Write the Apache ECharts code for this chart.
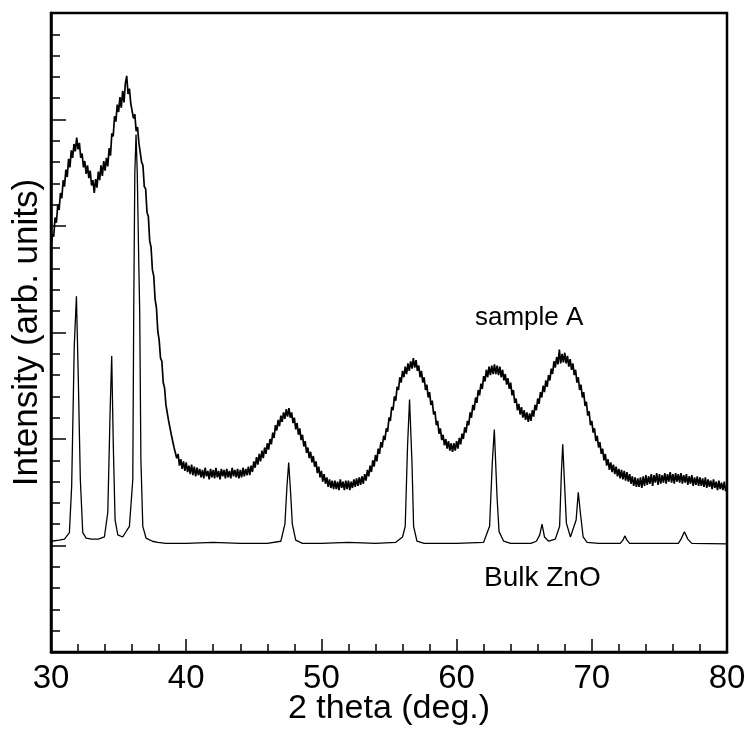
<!DOCTYPE html>
<html>
<head>
<meta charset="utf-8">
<script src="https://cdn.jsdelivr.net/npm/echarts@6/dist/echarts.min.js"></script>
<style>
    html, body { margin: 0; padding: 0; background: #fff; }
    #main { width: 745px; height: 733px; }
</style>
</head>
<body>
<div id="main"></div>
<script>
// sample A: read every 0.1 deg from 30 to 80
let sampleStart = 30;
let sampleStep = 0.1;
let sampleA = [
    3.80, 3.92, 3.90, 4.08, 4.03, 4.20, 4.15, 4.31, 4.26, 4.43,
    4.37, 4.53, 4.46, 4.63, 4.55, 4.71, 4.64, 4.77, 4.70, 4.83,
    4.72, 4.78, 4.64, 4.68, 4.55, 4.61, 4.49, 4.57, 4.45, 4.52,
    4.38, 4.43, 4.31, 4.44, 4.36, 4.51, 4.43, 4.57, 4.47, 4.61,
    4.52, 4.64, 4.56, 4.73, 4.66, 4.87, 4.84, 5.03, 4.98, 5.14,
    5.07, 5.21, 5.11, 5.27, 5.16, 5.34, 5.41, 5.24, 5.29, 5.15,
    5.16, 5.01, 5.05, 4.89, 4.93, 4.78, 4.79, 4.60, 4.57, 4.37,
    4.35, 4.13, 4.09, 3.86, 3.80, 3.59, 3.53, 3.31, 3.23, 3.01,
    2.93, 2.76, 2.73, 2.53, 2.48, 2.32, 2.31, 2.17, 2.18, 2.04,
    2.05, 1.92, 1.93, 1.82, 1.86, 1.75, 1.81, 1.72, 1.79, 1.70,
    1.78, 1.69, 1.75, 1.67, 1.76, 1.66, 1.74, 1.65, 1.73, 1.66,
    1.72, 1.64, 1.71, 1.63, 1.73, 1.65, 1.70, 1.62, 1.72, 1.64,
    1.71, 1.63, 1.73, 1.64, 1.70, 1.62, 1.72, 1.65, 1.71, 1.63,
    1.72, 1.64, 1.70, 1.63, 1.73, 1.65, 1.71, 1.64, 1.72, 1.63,
    1.71, 1.64, 1.73, 1.65, 1.72, 1.66, 1.74, 1.66, 1.75, 1.69,
    1.79, 1.73, 1.83, 1.76, 1.86, 1.79, 1.89, 1.82, 1.92, 1.86,
    1.96, 1.90, 2.00, 1.95, 2.06, 2.01, 2.13, 2.08, 2.18, 2.12,
    2.22, 2.16, 2.25, 2.19, 2.28, 2.21, 2.29, 2.20, 2.25, 2.15,
    2.20, 2.09, 2.15, 2.04, 2.10, 1.99, 2.04, 1.93, 1.98, 1.87,
    1.92, 1.82, 1.88, 1.78, 1.84, 1.74, 1.79, 1.68, 1.74, 1.64,
    1.70, 1.60, 1.67, 1.58, 1.64, 1.55, 1.62, 1.54, 1.61, 1.53,
    1.61, 1.53, 1.60, 1.52, 1.62, 1.54, 1.60, 1.52, 1.61, 1.53,
    1.61, 1.52, 1.60, 1.54, 1.62, 1.55, 1.63, 1.56, 1.64, 1.57,
    1.65, 1.58, 1.67, 1.61, 1.71, 1.65, 1.75, 1.69, 1.80, 1.74,
    1.85, 1.79, 1.91, 1.86, 1.97, 1.92, 2.03, 1.99, 2.10, 2.07,
    2.20, 2.17, 2.30, 2.27, 2.40, 2.36, 2.49, 2.46, 2.58, 2.53,
    2.64, 2.58, 2.68, 2.61, 2.71, 2.64, 2.73, 2.66, 2.76, 2.67,
    2.74, 2.64, 2.69, 2.58, 2.64, 2.53, 2.58, 2.46, 2.51, 2.39,
    2.44, 2.32, 2.36, 2.23, 2.26, 2.13, 2.17, 2.05, 2.10, 1.99,
    2.04, 1.94, 2.00, 1.91, 1.98, 1.89, 1.96, 1.88, 1.96, 1.89,
    1.98, 1.91, 2.01, 1.95, 2.05, 2.00, 2.11, 2.06, 2.17, 2.13,
    2.25, 2.20, 2.32, 2.27, 2.39, 2.34, 2.46, 2.41, 2.52, 2.47,
    2.59, 2.54, 2.65, 2.58, 2.68, 2.60, 2.69, 2.61, 2.70, 2.61,
    2.69, 2.60, 2.68, 2.58, 2.65, 2.55, 2.61, 2.51, 2.57, 2.47,
    2.53, 2.41, 2.46, 2.34, 2.38, 2.27, 2.33, 2.23, 2.30, 2.20,
    2.27, 2.18, 2.25, 2.16, 2.24, 2.17, 2.27, 2.21, 2.32, 2.27,
    2.38, 2.33, 2.44, 2.39, 2.50, 2.44, 2.55, 2.49, 2.60, 2.55,
    2.66, 2.61, 2.73, 2.67, 2.77, 2.70, 2.84, 2.71, 2.80, 2.72,
    2.81, 2.71, 2.78, 2.68, 2.75, 2.65, 2.71, 2.60, 2.65, 2.53,
    2.58, 2.46, 2.51, 2.39, 2.44, 2.31, 2.35, 2.22, 2.26, 2.13,
    2.17, 2.06, 2.10, 1.98, 2.03, 1.92, 1.97, 1.86, 1.91, 1.80,
    1.86, 1.75, 1.81, 1.71, 1.78, 1.69, 1.76, 1.67, 1.74, 1.65,
    1.72, 1.63, 1.71, 1.62, 1.70, 1.61, 1.69, 1.60, 1.67, 1.58,
    1.65, 1.56, 1.64, 1.55, 1.63, 1.55, 1.64, 1.54, 1.65, 1.56,
    1.66, 1.57, 1.65, 1.58, 1.67, 1.56, 1.66, 1.59, 1.68, 1.57,
    1.67, 1.58, 1.66, 1.59, 1.68, 1.58, 1.67, 1.60, 1.69, 1.59,
    1.67, 1.58, 1.68, 1.60, 1.67, 1.59, 1.68, 1.58, 1.66, 1.59,
    1.67, 1.57, 1.65, 1.58, 1.66, 1.56, 1.64, 1.57, 1.65, 1.56,
    1.64, 1.56, 1.63, 1.55, 1.64, 1.54, 1.62, 1.55, 1.61, 1.53,
    1.62, 1.54, 1.60, 1.52, 1.61, 1.53, 1.59, 1.52, 1.60, 1.51,
    1.56
];

// Bulk ZnO: angle / intensity pairs
let bulkX = [
    30.0, 30.6, 31.0, 31.36, 31.53, 31.72, 31.88, 32.02, 32.17, 32.35, 32.6, 33.0, 33.5,
    33.95, 34.2, 34.37, 34.49, 34.61, 34.74, 34.94, 35.3, 35.8, 36.05, 36.12, 36.2, 36.29,
    36.38, 36.5, 36.56, 36.65, 36.79, 37.03, 37.5, 37.9, 38.5, 40, 42, 44, 46,
    47.0, 47.3, 47.45, 47.58, 47.72, 47.85, 48.1, 48.6, 50, 52, 54, 55.5,
    56.0, 56.2, 56.37, 56.52, 56.7, 56.82, 57.07, 57.6, 60,
    62.0, 62.44, 62.64, 62.79, 62.99, 63.14, 63.48, 64, 65.5,
    65.9, 66.15, 66.32, 66.5, 66.81, 67.3, 67.62, 67.75, 67.85, 67.97, 68.12, 68.42,
    68.84, 69.0, 69.16, 69.36, 69.65, 70.5, 72.1, 72.3, 72.44, 72.6, 72.8,
    76.4, 76.6, 76.85, 77.1, 77.4, 80
];
let bulkY = [
    1.04, 1.05, 1.06, 1.12, 1.56, 2.87, 3.34, 2.56, 1.62, 1.12, 1.07, 1.06, 1.06,
    1.08, 1.31, 2.25, 2.78, 1.93, 1.24, 1.10, 1.08, 1.18, 1.62, 3.22, 4.50, 4.86,
    4.50, 3.60, 3.20, 1.80, 1.18, 1.07, 1.04, 1.03, 1.02, 1.02, 1.03, 1.02, 1.02,
    1.04, 1.20, 1.55, 1.78, 1.50, 1.20, 1.05, 1.02, 1.02, 1.03, 1.02, 1.03,
    1.08, 1.18, 1.93, 2.37, 1.78, 1.18, 1.04, 1.02, 1.02,
    1.03, 1.18, 1.78, 2.09, 1.46, 1.13, 1.04, 1.02, 1.02,
    1.04, 1.10, 1.20, 1.08, 1.04, 1.06, 1.18, 1.68, 1.95, 1.62, 1.21, 1.08,
    1.24, 1.50, 1.30, 1.08, 1.03, 1.02, 1.02, 1.05, 1.09, 1.05, 1.02,
    1.02, 1.06, 1.13, 1.06, 1.02, 1.015
];

let labels = ['sample A', 'Bulk ZnO'];

let sampleData = sampleA.map((v, i) => [sampleStart + i * sampleStep, v]);
let bulkData = bulkX.map((x, i) => [x, bulkY[i]]);

let myChart = echarts.init(document.getElementById('main'));
let font = 'Liberation Sans, Arial, sans-serif';
let option = {
    animation: false,
    backgroundColor: '#fff',
    grid: {
        left: 51,
        right: 18,
        top: 13,
        bottom: 81,
        outerBoundsMode: 'none',
        containLabel: false,
        show: true,
        borderColor: '#000',
        borderWidth: 2.5
    },
    xAxis: {
        type: 'value',
        min: 30,
        max: 80,
        interval: 10,
        name: '2 theta (deg.)',
        nameLocation: 'middle',
        nameGap: 40,
        nameMoveOverlap: false,
        nameTextStyle: { color: '#000', fontSize: 34, fontFamily: font },
        axisLine: { lineStyle: { color: '#000', width: 2.5 } },
        axisTick: { inside: true, length: 13, lineStyle: { color: '#000', width: 1.5 } },
        minorTick: { show: true, splitNumber: 5, length: 8, lineStyle: { color: '#000', width: 1.5 } },
        axisLabel: { color: '#000', fontSize: 33, fontFamily: font, margin: 10 },
        splitLine: { show: false }
    },
    yAxis: {
        type: 'value',
        min: 0,
        max: 6,
        interval: 1,
        name: 'Intensity (arb. units)',
        nameLocation: 'middle',
        nameGap: 6,
        nameMoveOverlap: false,
        nameTextStyle: { color: '#000', fontSize: 35, fontFamily: font },
        axisLine: { lineStyle: { color: '#000', width: 2.5 } },
        axisTick: { inside: true, length: 15, lineStyle: { color: '#000', width: 1.5 } },
        minorTick: { show: true, splitNumber: 5, length: 9, lineStyle: { color: '#000', width: 1.5 } },
        axisLabel: { show: false },
        splitLine: { show: false }
    },
    graphic: [
        {
            type: 'text', left: 475, top: 305,
            style: { text: labels[0], fontSize: 26, fontFamily: font, fill: '#000' }
        },
        {
            type: 'text', left: 484, top: 564,
            style: { text: labels[1], fontSize: 28, fontFamily: font, fill: '#000' }
        }
    ],
    series: [
        {
            name: labels[0],
            type: 'line',
            data: sampleData,
            showSymbol: false,
            lineStyle: { color: '#000', width: 1.7 }
        },
        {
            name: labels[1],
            type: 'line',
            data: bulkData,
            showSymbol: false,
            lineStyle: { color: '#000', width: 1.3 }
        }
    ]
};
myChart.setOption(option);
</script>
</body>
</html>
